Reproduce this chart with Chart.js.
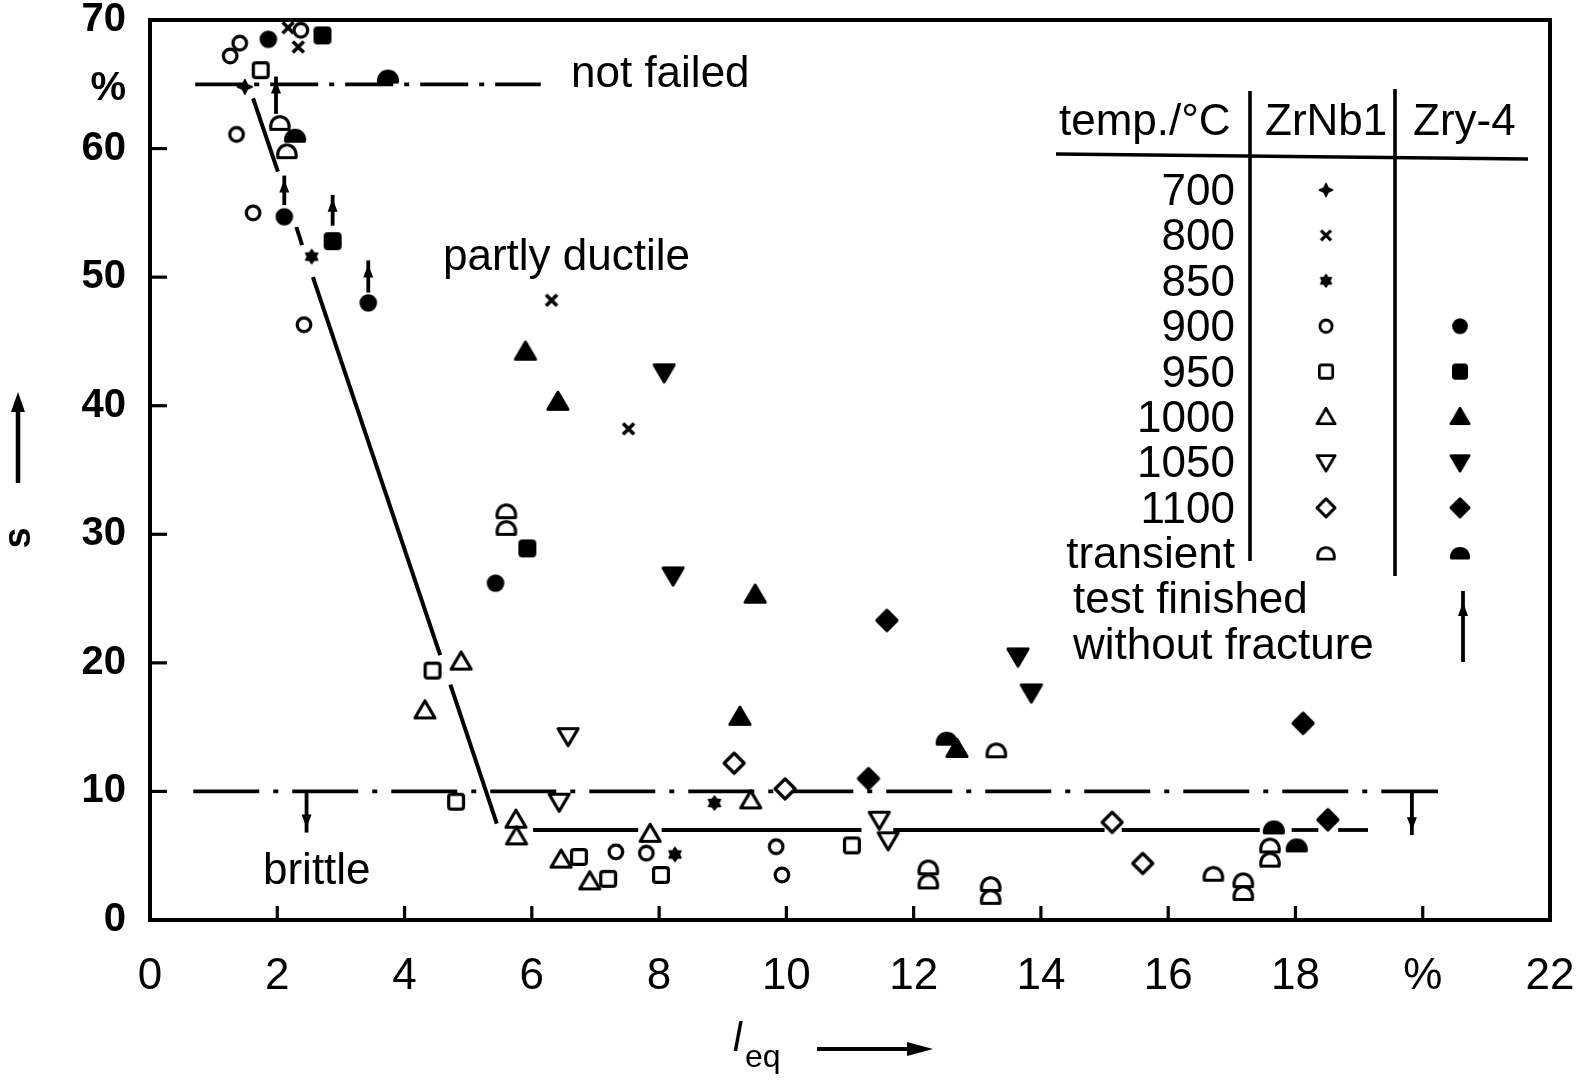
<!DOCTYPE html>
<html>
<head>
<meta charset="utf-8">
<script src="https://cdn.jsdelivr.net/npm/chart.js@4.4.1/dist/chart.umd.min.js"></script>
<style>
  html, body { margin: 0; padding: 0; background: #fff; }
  canvas { display: block; }
</style>
</head>
<body>
<canvas id="chart" width="1585" height="1083" style="width:1585px;height:1083px"></canvas>
<script>
// ---------- axes ----------
const xTickValues = [0, 2, 4, 6, 8, 10, 12, 14, 16, 18, 20, 22];
const xTickLabels = ['0', '2', '4', '6', '8', '10', '12', '14', '16', '18', '%', '22'];
const yTickValues = [0, 10, 20, 30, 40, 50, 60, 64.6, 70];
const yTickLabels = ['0', '10', '20', '30', '40', '50', '60', '%', '70'];
const xTickMarks = [2, 4, 6, 8, 10, 12, 14, 16, 18, 20];
const yTickMarks = [10, 20, 30, 40, 50, 60];

// ---------- ZrNb1 measurements [l_eq %, s %] ----------
const zrnb1_700 = [[1.49, 64.8]];
const zrnb1_800 = [[2.17, 69.4], [2.33, 67.9], [6.31, 48.2], [7.52, 38.2]];
const zrnb1_850 = [[2.54, 51.6], [8.87, 9.1], [8.25, 5.1]];
const zrnb1_900 = [[1.26, 67.2], [1.41, 68.2], [2.37, 69.2], [1.36, 61.1], [1.62, 55.0], [2.42, 46.3],
                   [7.32, 5.3], [7.80, 5.2], [9.84, 5.7], [9.93, 3.5]];
const zrnb1_950 = [[1.74, 66.1], [4.44, 19.4], [4.81, 9.2], [6.74, 4.9], [7.20, 3.2], [8.03, 3.5], [11.03, 5.8]];
const zrnb1_1000 = [[4.89, 20.1], [4.32, 16.3], [9.44, 9.3], [5.75, 7.8], [5.76, 6.5], [7.86, 6.7],
                    [6.46, 4.7], [6.91, 3.0]];
const zrnb1_1050 = [[6.57, 14.3], [6.43, 9.2], [11.46, 7.8], [11.60, 6.2]];
const zrnb1_1100 = [[9.18, 12.2], [9.98, 10.2], [15.12, 7.6], [15.60, 4.4]];
const zrnb1_transient = [[2.04, 62.0], [2.15, 59.8], [5.60, 31.8], [5.60, 30.5], [13.30, 13.2],
                         [12.23, 4.1], [12.23, 3.0], [13.21, 2.8], [13.21, 1.8], [16.71, 3.6],
                         [17.18, 3.1], [17.18, 2.1], [17.60, 5.8], [17.60, 4.7]];

// ---------- Zry-4 measurements ----------
const zry4_900 = [[1.86, 68.5], [2.11, 54.7], [3.43, 48.0], [5.43, 26.2]];
const zry4_950 = [[2.71, 68.8], [2.87, 52.8], [5.93, 28.9]];
const zry4_1000 = [[5.90, 44.2], [6.41, 40.3], [9.51, 25.3], [9.27, 15.8], [12.68, 13.3]];
const zry4_1050 = [[8.08, 42.6], [8.22, 26.8], [13.64, 20.5], [13.85, 17.7]];
const zry4_1100 = [[11.58, 23.3], [11.29, 11.0], [18.12, 15.3], [18.51, 7.8]];
const zry4_transient = [[3.74, 65.6], [2.28, 61.0], [12.52, 14.1], [17.66, 7.2], [18.02, 5.8]];

// ---------- boundary lines ----------
const notFailedLine = [[0.71, 65], [6.14, 65]];
const brittleLine = [[0.68, 10], [20.24, 10]];
const ductileBoundary = [
  [[1.62, 63.9], [2.01, 58.2]],
  [[2.30, 53.9], [2.39, 52.5]],
  [[2.56, 50.0], [4.56, 20.6]],
  [[4.72, 18.3], [5.45, 7.5]]
];
const lowerBoundary = [
  [[6.02, 7], [7.67, 7]],
  [[8.04, 7], [11.18, 7]],
  [[11.68, 7], [15.00, 7]],
  [[15.27, 7], [17.44, 7]],
  [[17.94, 7], [18.36, 7]],
  [[18.67, 7], [19.14, 7]]
];

// test finished without fracture: [l_eq, s at marker, s at arrow top]
const noFractureArrows = [[1.98, 62.7, 65.6], [2.11, 55.6, 57.9], [2.87, 54.0, 56.4], [3.43, 48.8, 51.3]];
// brittle side of the 10 % line: [l_eq, s start, s end]
const brittleArrows = [[2.46, 10, 6.8], [19.83, 10, 6.6]];

// legend table rows
const legendTemps = ['700', '800', '850', '900', '950', '1000', '1050', '1100', 'transient'];
const legendZrNb1 = ['plus4', 'cross', 'star6', 'circle', 'square', 'triangle', 'triangleDown', 'diamond', 'dome'];
const legendZry4 = [null, null, null, 'circle', 'square', 'triangle', 'triangleDown', 'diamond', 'dome'];

// ---------- marker glyphs ----------
function makeMarker(shape, filled) {
  const c = document.createElement('canvas');
  c.width = 34; c.height = 34;
  const g = c.getContext('2d');
  g.translate(17, 17);
  g.strokeStyle = '#000';
  g.fillStyle = filled ? '#000' : '#fff';
  g.lineWidth = 3.2;
  g.lineJoin = 'round';
  g.beginPath();
  switch (shape) {
    case 'circle':
      g.arc(0, 0, filled ? 7.2 : 6.8, 0, Math.PI * 2);
      break;
    case 'square':
      if (g.roundRect) g.roundRect(-7.4, -7.4, 14.8, 14.8, 2.5); else g.rect(-7.4, -7.4, 14.8, 14.8);
      break;
    case 'triangle':
      g.moveTo(0, -9.5); g.lineTo(10, 7.5); g.lineTo(-10, 7.5); g.closePath();
      break;
    case 'triangleDown':
      g.moveTo(0, 9.5); g.lineTo(10, -7.5); g.lineTo(-10, -7.5); g.closePath();
      break;
    case 'diamond':
      g.moveTo(0, -10); g.lineTo(10, 0); g.lineTo(0, 10); g.lineTo(-10, 0); g.closePath();
      break;
    case 'dome':
      if (filled) {
        g.moveTo(-9.5, 5.5); g.lineTo(9.5, 5.5);
        g.bezierCurveTo(10.5, -9, -10.5, -9, -9.5, 5.5);
      } else {
        g.moveTo(-9, 6.5); g.lineTo(9, 6.5);
        g.bezierCurveTo(11.5, -10.5, -11.5, -10.5, -9, 6.5);
      }
      g.closePath();
      break;
    case 'cross':
      g.lineWidth = 3.6;
      g.moveTo(-5.5, -5.5); g.lineTo(5.5, 5.5); g.moveTo(5.5, -5.5); g.lineTo(-5.5, 5.5);
      g.stroke();
      return c;
    case 'plus4':
      g.fillStyle = '#000';
      g.moveTo(0, -7.5); g.lineTo(2.4, -2.4); g.lineTo(7.5, 0); g.lineTo(2.4, 2.4);
      g.lineTo(0, 7.5); g.lineTo(-2.4, 2.4); g.lineTo(-7.5, 0); g.lineTo(-2.4, -2.4); g.closePath();
      g.lineWidth = 1.4;
      break;
    case 'star6': {
      g.fillStyle = '#000';
      for (let i = 0; i < 12; i++) {
        const r = i % 2 === 0 ? 7 : 4.4;
        const a = -Math.PI / 2 + i * Math.PI / 6;
        if (i === 0) g.moveTo(r * Math.cos(a), r * Math.sin(a)); else g.lineTo(r * Math.cos(a), r * Math.sin(a));
      }
      g.closePath();
      g.lineWidth = 1.4;
      break;
    }
  }
  g.fill();
  g.stroke();
  return c;
}

const markers = {};
function marker(shape, filled) {
  const k = shape + (filled ? '_f' : '_o');
  if (!markers[k]) markers[k] = makeMarker(shape, filled);
  return markers[k];
}

// ---------- datasets ----------
const toXY = arr => arr.map(p => ({ x: p[0], y: p[1] }));

function pointSet(label, arr, shape, filled) {
  return {
    label, data: toXY(arr), showLine: false, order: 0, clip: false,
    pointStyle: marker(shape, filled), pointRadius: 8, pointHoverRadius: 8
  };
}
function lineSet(arr, dash, width) {
  return {
    data: toXY(arr), showLine: true, order: 5, clip: false,
    borderColor: '#000', borderWidth: width, borderDash: dash || [], borderCapStyle: 'butt',
    pointRadius: 0, pointHoverRadius: 0, fill: false, tension: 0
  };
}

const datasets = [
  lineSet(notFailedLine, [48, 11, 5, 11], 3.8),
  lineSet(brittleLine, [66, 14, 5, 14], 3.8),
  ...ductileBoundary.map(s => lineSet(s, null, 4)),
  ...lowerBoundary.map(s => lineSet(s, null, 3.8)),
  pointSet('ZrNb1 700', zrnb1_700, 'plus4', true),
  pointSet('ZrNb1 800', zrnb1_800, 'cross', false),
  pointSet('ZrNb1 850', zrnb1_850, 'star6', true),
  pointSet('ZrNb1 900', zrnb1_900, 'circle', false),
  pointSet('ZrNb1 950', zrnb1_950, 'square', false),
  pointSet('ZrNb1 1000', zrnb1_1000, 'triangle', false),
  pointSet('ZrNb1 1050', zrnb1_1050, 'triangleDown', false),
  pointSet('ZrNb1 1100', zrnb1_1100, 'diamond', false),
  pointSet('ZrNb1 transient', zrnb1_transient, 'dome', false),
  pointSet('Zry-4 900', zry4_900, 'circle', true),
  pointSet('Zry-4 950', zry4_950, 'square', true),
  pointSet('Zry-4 1000', zry4_1000, 'triangle', true),
  pointSet('Zry-4 1050', zry4_1050, 'triangleDown', true),
  pointSet('Zry-4 1100', zry4_1100, 'diamond', true),
  pointSet('Zry-4 transient', zry4_transient, 'dome', true)
];

// ---------- drawing helpers ----------
function seg(ctx, x1, y1, x2, y2) {
  ctx.beginPath(); ctx.moveTo(x1, y1); ctx.lineTo(x2, y2); ctx.stroke();
}
function arrowHead(ctx, x, tipY, dir, len, half) {
  ctx.beginPath();
  ctx.moveTo(x, tipY);
  ctx.lineTo(x - half, tipY - dir * len);
  ctx.lineTo(x + half, tipY - dir * len);
  ctx.closePath();
  ctx.fill();
}

const FONT = '"Liberation Sans", Arial, Helvetica, sans-serif';

const decor = {
  id: 'decor',
  afterDatasetsDraw(chart) {
    const { ctx, chartArea: a, scales: { x, y } } = chart;
    ctx.save();
    ctx.strokeStyle = '#000';
    ctx.fillStyle = '#000';

    // plot frame
    ctx.lineWidth = 4;
    ctx.strokeRect(a.left, a.top, a.right - a.left, a.bottom - a.top);

    // inward tick marks
    ctx.lineWidth = 3.2;
    xTickMarks.forEach(v => { const px = x.getPixelForValue(v); seg(ctx, px, a.bottom, px, a.bottom - 14); });
    yTickMarks.forEach(v => { const py = y.getPixelForValue(v); seg(ctx, a.left, py, a.left + 17, py); });

    // arrows: specimens not fractured
    ctx.lineWidth = 3.8;
    noFractureArrows.forEach(([lx, s0, s1]) => {
      const px = x.getPixelForValue(lx), p0 = y.getPixelForValue(s0), p1 = y.getPixelForValue(s1);
      seg(ctx, px, p0, px, p1);
      arrowHead(ctx, px, p1 + 4, -1, 13, 5);
    });
    // arrows below the 10 % line
    brittleArrows.forEach(([lx, s0, s1]) => {
      const px = x.getPixelForValue(lx), p0 = y.getPixelForValue(s0), p1 = y.getPixelForValue(s1);
      seg(ctx, px, p0, px, p1);
      arrowHead(ctx, px, p1 - 5, 1, 13, 5);
    });

    // region labels
    ctx.font = '44px ' + FONT;
    ctx.textBaseline = 'alphabetic';
    ctx.textAlign = 'left';
    ctx.fillText('not failed', 571, 87);
    ctx.fillText('partly ductile', 443, 270);
    ctx.fillText('brittle', 263, 884);

    // legend table
    ctx.fillText('temp./°C', 1059, 135);
    ctx.fillText('ZrNb1', 1265, 135);
    ctx.fillText('Zry-4', 1413, 135);
    ctx.lineWidth = 3.6;
    seg(ctx, 1250, 91, 1250, 561);
    seg(ctx, 1395, 89, 1395, 576);
    seg(ctx, 1056, 154, 1528, 159);
    const rowTop = 190, rowStep = 45.4;
    ctx.textAlign = 'right';
    legendTemps.forEach((t, i) => {
      const cy = rowTop + i * rowStep;
      ctx.fillText(t, 1235, cy + 15);
      const m1 = legendZrNb1[i], m2 = legendZry4[i];
      const s = 0.9;
      if (m1) { const c = marker(m1, m1 === 'plus4' || m1 === 'star6'); ctx.drawImage(c, 1326 - 17 * s, cy - 17 * s, 34 * s, 34 * s); }
      if (m2) { const c = marker(m2, true); ctx.drawImage(c, 1460 - 17 * s, cy - 17 * s, 34 * s, 34 * s); }
    });
    ctx.textAlign = 'left';
    ctx.fillText('test finished', 1073, 613);
    ctx.fillText('without fracture', 1073, 659);
    ctx.lineWidth = 3.8;
    seg(ctx, 1463, 591, 1463, 662);
    arrowHead(ctx, 1463, 602, -1, 14, 5);

    // y-axis title: s with arrow
    ctx.save();
    ctx.translate(30, 538);
    ctx.rotate(-Math.PI / 2);
    ctx.font = 'bold 38px ' + FONT;
    ctx.textAlign = 'center';
    ctx.fillText('s', 0, 0);
    ctx.restore();
    ctx.lineWidth = 4.5;
    seg(ctx, 18, 483, 18, 410);
    arrowHead(ctx, 18, 392, -1, 20, 7);

    // x-axis title: l_eq with arrow
    ctx.font = 'italic 40px ' + FONT;
    ctx.textAlign = 'left';
    ctx.fillText('l', 733, 1051);
    ctx.font = '32px ' + FONT;
    ctx.fillText('eq', 745, 1067);
    ctx.lineWidth = 3.8;
    seg(ctx, 817, 1049, 912, 1049);
    ctx.beginPath();
    ctx.moveTo(933, 1049); ctx.lineTo(907, 1042); ctx.lineTo(907, 1056); ctx.closePath(); ctx.fill();

    ctx.restore();
  }
};

new Chart(document.getElementById('chart').getContext('2d'), {
  type: 'scatter',
  data: { datasets },
  options: {
    responsive: false,
    animation: false,
    devicePixelRatio: 1,
    layout: { padding: { left: 0, right: 35, top: 20, bottom: 0 } },
    plugins: { legend: { display: false }, tooltip: { enabled: false } },
    events: [],
    scales: {
      x: {
        type: 'linear', min: 0, max: 22,
        afterBuildTicks: s => { s.ticks = xTickValues.map(v => ({ value: v })); },
        afterFit: s => { s.height = 163; s.paddingLeft = 0; s.paddingRight = 0; },
        ticks: {
          callback: (v, i) => xTickLabels[i],
          font: { family: FONT, size: 44 },
          color: '#000', padding: 30, maxRotation: 0, autoSkip: false
        },
        grid: { display: false, drawTicks: false, tickLength: 0 },
        border: { display: false }
      },
      y: {
        type: 'linear', min: 0, max: 70,
        afterBuildTicks: s => { s.ticks = yTickValues.map(v => ({ value: v })); },
        afterFit: s => { s.width = 150; s.paddingTop = 0; s.paddingBottom = 0; },
        ticks: {
          callback: (v, i) => yTickLabels[i],
          font: { family: FONT, size: 40, weight: 'bold' },
          color: '#000', padding: 24, autoSkip: false
        },
        grid: { display: false, drawTicks: false, tickLength: 0 },
        border: { display: false }
      }
    }
  },
  plugins: [decor]
});
</script>
</body>
</html>
